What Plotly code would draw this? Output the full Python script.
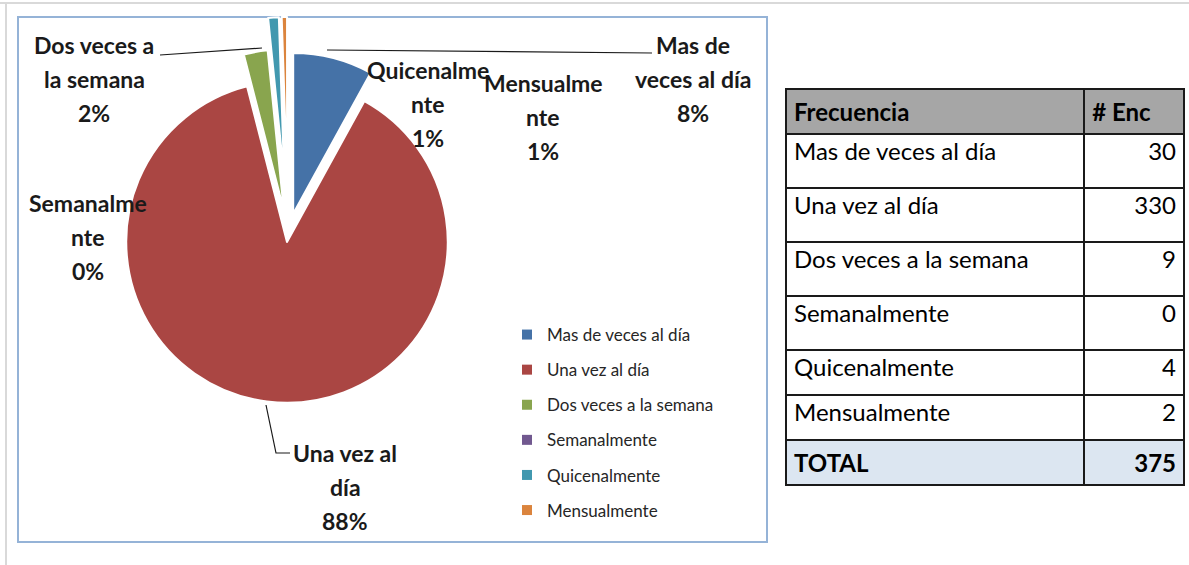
import plotly.graph_objects as go

W, H = 1189, 565

# ---------------- data ----------------
categories = ["Mas de veces al día", "Una vez al día", "Dos veces a la semana",
              "Semanalmente", "Quicenalmente", "Mensualmente"]
counts = [30, 330, 9, 0, 4, 2]
header_labels = ["Frecuencia", "# Enc"]
total_label = "TOTAL"
# label text as wrapped on the chart
label_wraps = [["Mas de", "veces al día"], ["Una vez al", "día"], ["Dos veces a", "la semana"],
               ["Semanalme", "nte"], ["Quicenalme", "nte"], ["Mensualme", "nte"]]

# ---------------- styles / positions ----------------
colors = ["#4572A7", "#AA4643", "#89A54E", "#71588F", "#4198AF", "#DB843D"]
pulls = [0.13, 0.05, 0.15, 0.15, 0.35, 0.35]
label_pos = [(693, 45), (345, 453), (94, 45), (88, 203), (428, 70), (543, 83)]
line_gap = 34
FONT = "Lato"
PIE_C = (288, 234)
PIE_HALF = 217   # half of the pie box (radius * (1 + max pull))


def X(px):
    return px / W


def Y(py):
    return 1 - py / H


total = sum(counts)
pcts = [f"{round(100 * c / total)}%" for c in counts]

fig = go.Figure()

fig.add_trace(go.Pie(
    labels=categories, values=counts, sort=False, direction="clockwise", rotation=0,
    marker=dict(colors=colors, line=dict(color="white", width=2)),
    pull=pulls, textinfo="none", hoverinfo="label+value+percent", showlegend=False,
    domain=dict(x=[X(PIE_C[0] - PIE_HALF), X(PIE_C[0] + PIE_HALF)],
                y=[Y(PIE_C[1] + PIE_HALF), Y(PIE_C[1] - PIE_HALF)]),
))

# legend entries (one group each so spacing can be set)
for cat, col in zip(categories, colors):
    fig.add_trace(go.Scatter(x=[None], y=[None], mode="markers", name=cat, legendgroup=cat,
                             marker=dict(symbol="square", size=10, color=col),
                             hoverinfo="skip", showlegend=True))

TF = dict(family=FONT, size=24, color="black")
LINE = dict(color="#1a1a1a", width=2)
# table
vals_a = [categories[:4], [str(c) for c in counts[:4]]]
fig.add_trace(go.Table(
    domain=dict(x=[X(786), X(1185)], y=[Y(352), Y(89)]),
    columnwidth=[299, 100],
    header=dict(values=[f"<b>{h}</b>" for h in header_labels], fill_color="#A6A6A6",
                line=LINE, align=["left", "left"], font=TF, height=45),
    cells=dict(values=vals_a, fill_color="white", line=LINE,
               align=["left", "right"], font=TF, height=54),
))
fill_b = [["white", "#DCE6F1"], ["white", "#DCE6F1"]]
fig.add_trace(go.Table(
    domain=dict(x=[X(786), X(1185)], y=[Y(490), Y(350)]),
    columnwidth=[299, 100],
    header=dict(values=[categories[4], str(counts[4])], fill_color="white",
                line=LINE, align=["left", "right"], font=TF, height=45),
    cells=dict(values=[[categories[5], f"<b>{total_label}</b>"], [str(counts[5]), f"<b>{total}</b>"]],
               fill_color=fill_b, line=LINE, align=["left", "right"], font=TF, height=45),
))

# data labels
annotations = []
for i, (cx, cy) in enumerate(label_pos):
    lines = label_wraps[i] + [pcts[i]]
    for j, t in enumerate(lines):
        annotations.append(dict(x=X(cx), y=Y(cy + j * line_gap), xref="paper", yref="paper",
                                text=f"<b>{t}</b>", showarrow=False, xanchor="center", yanchor="middle",
                                font=dict(family=FONT, size=23, color="#1a1a1a")))

shapes = [
    # screenshot frame
    dict(type="line", xref="paper", yref="paper", x0=0, x1=1, y0=Y(3), y1=Y(3),
         line=dict(color="#D9D9D9", width=2)),
    dict(type="line", xref="paper", yref="paper", x0=X(6), x1=X(6), y0=Y(3), y1=0,
         line=dict(color="#D9D9D9", width=2)),
    # chart area border
    dict(type="rect", xref="paper", yref="paper", x0=X(18), x1=X(767), y0=Y(542), y1=Y(17),
         line=dict(color="#95B3D7", width=2), layer="below"),
    # leader lines
    dict(type="line", xref="paper", yref="paper", x0=X(160), y0=Y(55), x1=X(262), y1=Y(48),
         line=dict(color="#1a1a1a", width=1.2)),
    dict(type="line", xref="paper", yref="paper", x0=X(327), y0=Y(50), x1=X(652), y1=Y(53),
         line=dict(color="#1a1a1a", width=1.2)),
    dict(type="path", xref="paper", yref="paper",
         path=f"M {X(266)} {Y(405)} L {X(276)} {Y(453)} L {X(290)} {Y(453)}",
         line=dict(color="#1a1a1a", width=1.2)),
]

fig.update_layout(
    width=W, height=H, margin=dict(l=0, r=0, t=0, b=0),
    paper_bgcolor="white", plot_bgcolor="white",
    xaxis=dict(visible=False), yaxis=dict(visible=False),
    showlegend=True,
    legend=dict(x=X(507), y=Y(317), xanchor="left", yanchor="top", tracegroupgap=10,
                font=dict(family=FONT, size=17, color="#262626"), bgcolor="rgba(0,0,0,0)"),
    annotations=annotations, shapes=shapes,
)

fig.write_html("out.html", config={"displayModeBar": False},
               post_script="document.body.style.margin='0';")
